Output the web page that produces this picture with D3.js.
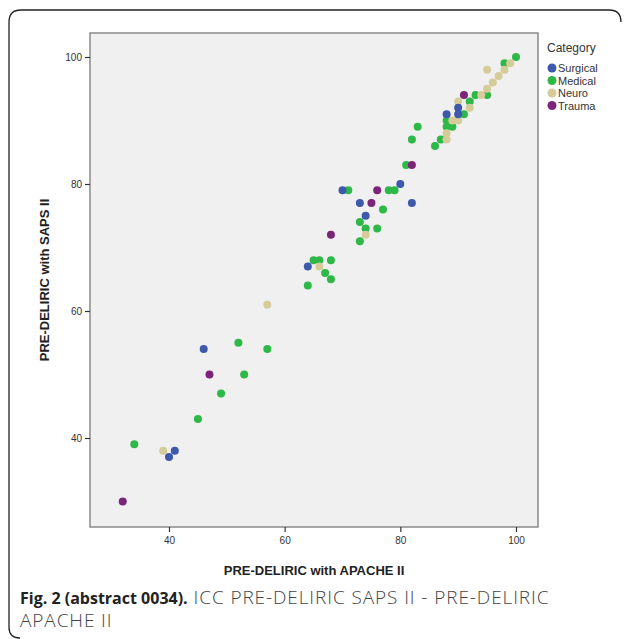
<!DOCTYPE html>
<html lang="en">
  <head>
    <meta charset="UTF-8" />
    <title>PRE-DELIRIC SAPS II vs APACHE II</title>
    <script src="https://cdn.jsdelivr.net/npm/d3@7"></script>
    <style>
      body { margin: 0; background: #fff; }
      svg { display: block; }
    </style>
  </head>
  <body>
    <svg width="629" height="639"></svg>
    <script>
      const width = 629;
      const height = 639;

      // categories and their points: [APACHE II, SAPS II]
      const categories = ["Surgical", "Medical", "Neuro", "Trauma"];
      const colors = ["#3e58ac", "#2eb848", "#d6cc99", "#7c2479"];

      const surgical = [[41, 38], [40, 37], [46, 54], [64, 67], [70, 79], [73, 77], [74, 75],
        [80, 80], [82, 77], [90, 92], [90, 91], [88, 91]];
      const medical = [[34, 39], [45, 43], [49, 47], [52, 55], [53, 50], [57, 54], [64, 64],
        [65, 68], [66, 68], [67, 66], [68, 65], [68, 68], [73, 71], [71, 79], [78, 79], [79, 79],
        [77, 76], [73, 74], [74, 73], [76, 73], [81, 83], [82, 87], [83, 89], [86, 86], [87, 87],
        [88, 90], [88, 89], [89, 89], [91, 91], [92, 93], [93, 94], [95, 94], [98, 99], [100, 100]];
      const neuro = [[39, 38], [57, 61], [66, 67], [74, 72], [88, 88], [88, 87], [89, 90],
        [90, 90], [90, 93], [92, 92], [94, 94], [95, 95], [96, 96], [97, 97], [98, 98], [99, 99], [95, 98]];
      const trauma = [[32, 30], [47, 50], [68, 72], [75, 77], [76, 79], [82, 83], [91, 94]];

      const xTicks = [40, 60, 80, 100];
      const yTicks = [40, 60, 80, 100];

      const plot = { left: 90, top: 33, right: 538, bottom: 527 };

      const x = d3.scaleLinear().domain([40, 100]).range([169, 516]);
      const y = d3.scaleLinear().domain([40, 100]).range([438, 57]);

      const svg = d3.select("svg");

      // outer frame (open at the bottom right like the journal figure)
      svg.append("path")
        .attr("d", "M 20 638 Q 9 638 9 627 L 9 22 Q 9 10 21 10 L 609 10 Q 621 10 621 22")
        .attr("fill", "none")
        .attr("stroke", "#222")
        .attr("stroke-width", 1.3);

      svg.append("rect")
        .attr("x", plot.left)
        .attr("y", plot.top)
        .attr("width", plot.right - plot.left)
        .attr("height", plot.bottom - plot.top)
        .attr("fill", "#f0f0f0")
        .attr("stroke", "#8a8a8a")
        .attr("stroke-width", 1.5);

      const xAxis = d3.axisBottom(x).tickValues(xTicks).tickSize(5).tickSizeOuter(0);
      const yAxis = d3.axisLeft(y).tickValues(yTicks).tickSize(5).tickSizeOuter(0);

      const gx = svg.append("g").attr("transform", `translate(0,${plot.bottom})`).call(xAxis);
      const gy = svg.append("g").attr("transform", `translate(${plot.left},0)`).call(yAxis);

      [gx, gy].forEach(g => {
        g.select(".domain").remove();
        g.selectAll(".tick line").attr("stroke", "#333").attr("stroke-width", 1.2);
        g.selectAll(".tick text")
          .attr("fill", "#333")
          .style("font-family", "'Liberation Sans', Arial, sans-serif")
          .style("font-size", "10px");
      });
      gx.selectAll(".tick text").attr("dy", "0.9em");

      // points
      const groups = [medical, neuro, surgical, trauma];
      const groupIdx = [1, 2, 0, 3];
      groups.forEach((pts, i) => {
        svg.append("g")
          .selectAll("circle")
          .data(pts)
          .join("circle")
          .attr("cx", d => x(d[0]))
          .attr("cy", d => y(d[1]))
          .attr("r", 4)
          .attr("fill", colors[groupIdx[i]]);
      });

      // axis titles
      svg.append("text")
        .attr("x", 314)
        .attr("y", 575)
        .attr("text-anchor", "middle")
        .style("font-family", "'Liberation Sans', Arial, sans-serif")
        .style("font-size", "13px")
        .style("font-weight", "bold")
        .attr("fill", "#222")
        .text("PRE-DELIRIC with APACHE II");

      svg.append("text")
        .attr("transform", "translate(49,280) rotate(-90)")
        .attr("text-anchor", "middle")
        .style("font-family", "'Liberation Sans', Arial, sans-serif")
        .style("font-size", "13px")
        .style("font-weight", "bold")
        .attr("fill", "#222")
        .text("PRE-DELIRIC with SAPS II");

      // legend
      const legend = svg.append("g").attr("transform", "translate(547,0)");
      legend.append("text")
        .attr("x", 0)
        .attr("y", 52)
        .style("font-family", "'Liberation Sans', Arial, sans-serif")
        .style("font-size", "12px")
        .attr("fill", "#333")
        .text("Category");
      const item = legend.selectAll("g.item")
        .data(categories)
        .join("g")
        .attr("class", "item")
        .attr("transform", (d, i) => `translate(0,${68 + i * 12.5})`);
      item.append("circle").attr("cx", 5).attr("cy", 0).attr("r", 4.5).attr("fill", (d, i) => colors[i]);
      item.append("text")
        .attr("x", 11)
        .attr("y", 4)
        .style("font-family", "'Liberation Sans', Arial, sans-serif")
        .style("font-size", "11px")
        .attr("fill", "#333")
        .text(d => d);

      // caption
      const cap = svg.append("text")
        .attr("x", 20)
        .attr("y", 604)
        .style("font-family", "'Open Sans', sans-serif")
        .style("font-size", "16px")
        .attr("fill", "#444");
      cap.append("tspan").style("font-weight", "bold").attr("fill", "#222").text("Fig. 2 (abstract 0034).");
      cap.append("tspan")
        .style("font-weight", "300")
        .style("font-size", "19px")
        .style("letter-spacing", "0.9px")
        .text(" ICC PRE-DELIRIC SAPS II - PRE-DELIRIC");
      svg.append("text")
        .attr("x", 20)
        .attr("y", 627)
        .style("font-family", "'Open Sans', sans-serif")
        .style("font-size", "19px")
        .style("font-weight", "300")
        .style("letter-spacing", "0.9px")
        .attr("fill", "#444")
        .text("APACHE II");
    </script>
  </body>
</html>
